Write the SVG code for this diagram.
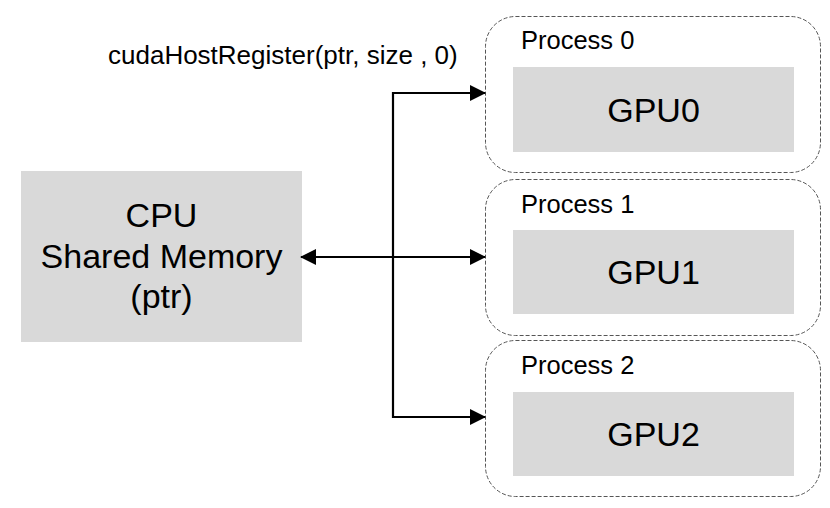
<svg xmlns="http://www.w3.org/2000/svg" width="830" height="508" viewBox="0 0 830 508">
<defs>
<style>
.proc{fill:#fff;stroke:#555;stroke-width:1;stroke-dasharray:4 2}
.box{fill:#d9d9d9}
.t{font-family:"Liberation Sans",Arial,sans-serif;fill:#000}
.big{font-size:34px;text-anchor:middle}
.lbl{font-size:25.5px}
.ln{fill:none;stroke:#000;stroke-width:2.2}
</style>
<marker id="ah" viewBox="0 0 16 16" refX="15" refY="8" markerWidth="16" markerHeight="16" markerUnits="userSpaceOnUse" orient="auto-start-reverse">
<path d="M0,0 L16,8 L0,16 Z" fill="#000"/>
</marker>
</defs>
<rect width="830" height="508" fill="#fff"/>
<text class="t" style="font-size:26px" x="108" y="64">cudaHostRegister(ptr, size , 0)</text>
<g id="cpu">
<rect class="box" x="21" y="171" width="281" height="171"/>
<text class="t big" x="161.5" y="227">CPU</text>
<text class="t big" x="161.5" y="268">Shared Memory</text>
<text class="t big" x="161.5" y="308">(ptr)</text>
</g>
<g id="process0">
<rect class="proc" x="485.5" y="16.5" width="335" height="156" rx="30"/>
<text class="t lbl" x="521" y="49">Process 0</text>
<rect class="box" x="513" y="67" width="281" height="85"/>
<text class="t big" x="653.5" y="122">GPU0</text>
</g>
<g id="process1">
<rect class="proc" x="485.5" y="179.5" width="335" height="156" rx="30"/>
<text class="t lbl" x="521" y="213">Process 1</text>
<rect class="box" x="513" y="230" width="281" height="84"/>
<text class="t big" x="653.5" y="284">GPU1</text>
</g>
<g id="process2">
<rect class="proc" x="485.5" y="340.5" width="335" height="156" rx="30"/>
<text class="t lbl" x="521" y="374">Process 2</text>
<rect class="box" x="513" y="392" width="281" height="84"/>
<text class="t big" x="653.5" y="446">GPU2</text>
</g>
<g id="connectors">
<path class="ln" d="M393,257 L393,93 L485,93" marker-end="url(#ah)"/>
<path class="ln" d="M393,257 L393,417 L485,417" marker-end="url(#ah)"/>
<path class="ln" d="M301,257 L485,257" marker-start="url(#ah)" marker-end="url(#ah)"/>
</g>
</svg>
